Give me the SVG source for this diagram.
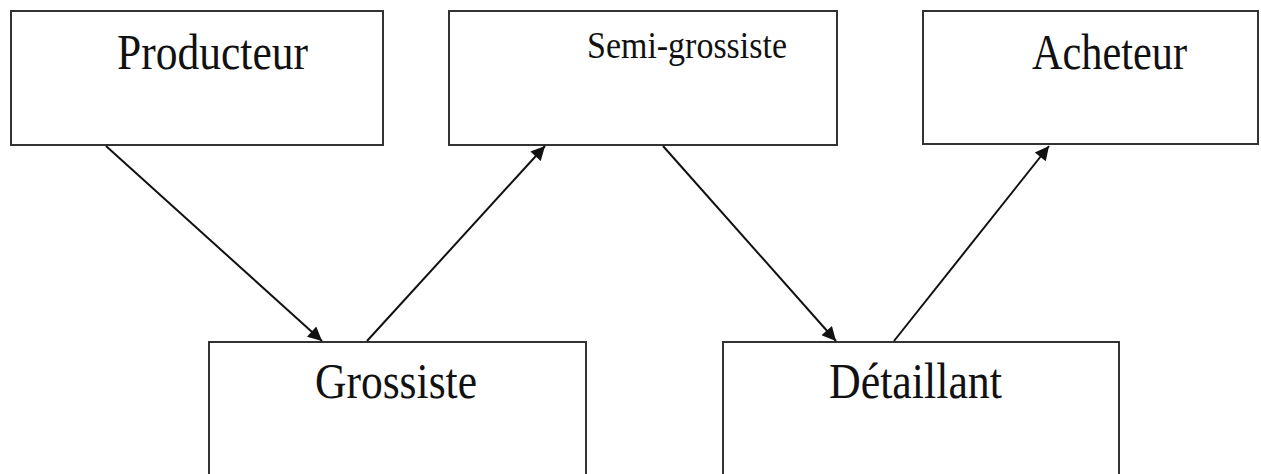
<svg xmlns="http://www.w3.org/2000/svg" width="1261" height="474" viewBox="0 0 1261 474">
<style>
.box{fill:#fff;stroke:#333;stroke-width:2}
.lbl{font-family:"Liberation Serif","Times New Roman",serif;fill:#111}
.con{stroke:#111;stroke-width:2;fill:none;marker-end:url(#ah)}
</style>
<defs>
<marker id="ah" viewBox="0 0 10 10" refX="10" refY="5" markerWidth="8" markerHeight="7" markerUnits="strokeWidth" orient="auto">
<path d="M0,0 L10,5 L0,10 z" fill="#111"/>
</marker>
</defs>
<rect width="1261" height="474" fill="#fff"/>
<g id="producteur">
<rect class="box" x="11" y="11" width="372" height="134"/>
<text class="lbl" x="117" y="69" font-size="50" textLength="191" lengthAdjust="spacingAndGlyphs">Producteur</text>
</g>
<g id="semi-grossiste">
<rect class="box" x="449" y="11" width="388" height="134"/>
<text class="lbl" x="587" y="58" font-size="38" textLength="200" lengthAdjust="spacingAndGlyphs">Semi-grossiste</text>
</g>
<g id="acheteur">
<rect class="box" x="923" y="11" width="335" height="133"/>
<text class="lbl" x="1032" y="69" font-size="50" textLength="155" lengthAdjust="spacingAndGlyphs">Acheteur</text>
</g>
<g id="grossiste">
<rect class="box" x="209" y="342" width="377" height="140"/>
<text class="lbl" x="315" y="398" font-size="50" textLength="162" lengthAdjust="spacingAndGlyphs">Grossiste</text>
</g>
<g id="detaillant">
<rect class="box" x="723" y="342" width="396" height="140"/>
<text class="lbl" x="829" y="398" font-size="50" textLength="173" lengthAdjust="spacingAndGlyphs">Détaillant</text>
</g>
<g id="connectors">
<line class="con" x1="106" y1="146" x2="322" y2="341"/>
<line class="con" x1="367" y1="341" x2="545" y2="146"/>
<line class="con" x1="663" y1="146" x2="836" y2="341"/>
<line class="con" x1="894" y1="341" x2="1049" y2="146"/>
</g>
</svg>
